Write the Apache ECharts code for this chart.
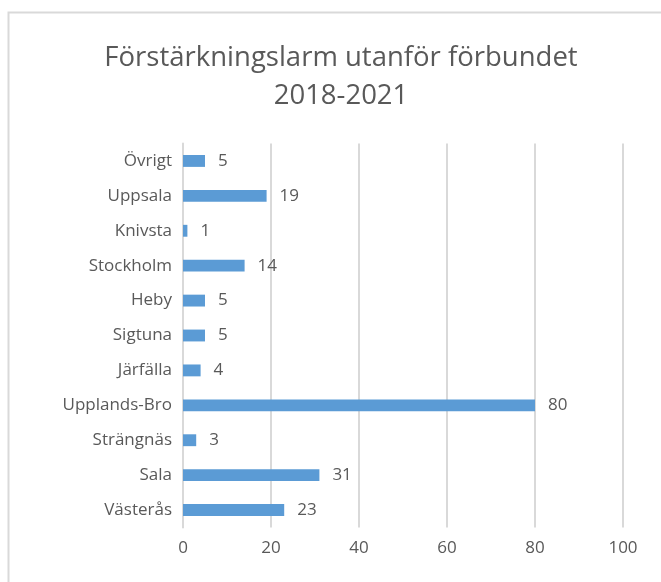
<!DOCTYPE html>
<html>
<head>
<meta charset="utf-8">
<script src="https://cdn.jsdelivr.net/npm/echarts@6/dist/echarts.min.js"></script>
<style>html,body{margin:0;padding:0;background:#fff;}#c{width:661px;height:582px;}</style>
</head>
<body>
<div id="c"></div>
<script>
const categories = ["Västerås","Sala","Strängnäs","Upplands-Bro","Järfälla","Sigtuna","Heby","Stockholm","Knivsta","Uppsala","Övrigt"];
const values = [23,31,3,80,4,5,5,14,1,19,5];
const titleText = "Förstärkningslarm utanför förbundet\n2018-2021";
const FONT = "Open Sans";
const chart = echarts.init(document.getElementById('c'));
chart.setOption({
  animation: false,
  textStyle: {fontFamily: FONT},
  graphic: [{
    type: 'rect', shape: {x: 8.5, y: 12.5, width: 700, height: 700},
    style: {fill: 'none', stroke: '#d9d9d9', lineWidth: 2}, silent: true
  }],
  title: {
    text: titleText, left: 336, top: 34, textAlign: 'center',
    textStyle: {fontFamily: FONT, fontWeight: 'normal', fontSize: 27.5, color: '#595959', lineHeight: 38}
  },
  grid: {left: 183, right: 38, top: 143.5, bottom: 54.5, containLabel: false},
  xAxis: {
    type: 'value', min: 0, max: 100, interval: 20,
    axisLine: {show: false}, axisTick: {show: false},
    axisLabel: {color: '#595959', fontSize: 17, margin: 12, fontFamily: FONT},
    splitLine: {show: true, lineStyle: {color: '#d9d9d9', width: 2}}
  },
  yAxis: {
    type: 'category', data: categories,
    axisLine: {show: true, lineStyle: {color: '#d9d9d9', width: 2}},
    axisTick: {show: false},
    axisLabel: {color: '#595959', fontSize: 17, margin: 11, fontFamily: FONT}
  },
  series: [{
    type: 'bar', data: values, barWidth: '34%',
    itemStyle: {color: '#5b9bd5'},
    label: {show: true, position: 'right', distance: 13, color: '#595959', fontSize: 17, fontFamily: FONT}
  }]
});
</script>
</body>
</html>
